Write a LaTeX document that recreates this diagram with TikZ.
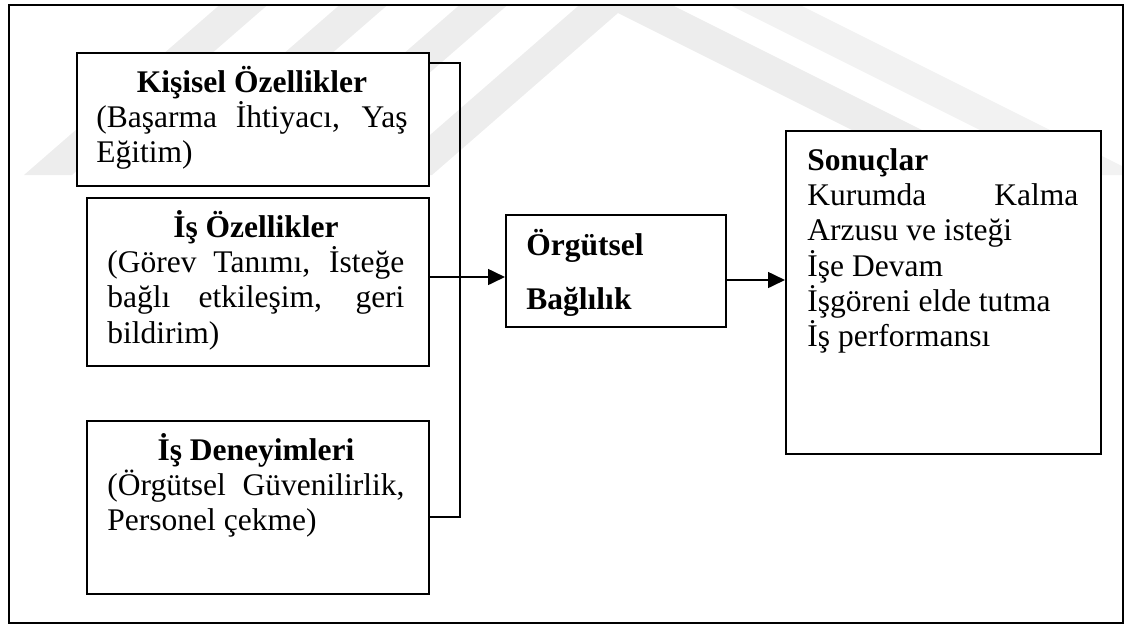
\documentclass[tikz,border=0pt]{standalone}
\usepackage{fontspec}
\setmainfont{Liberation Serif}
\usetikzlibrary{arrows.meta}
\newdimen\pxu \pxu=0.4444pt
\begin{document}
\begin{tikzpicture}[x=0.4444pt, y=-0.4444pt,
  box/.style={draw, line width=0.9pt, fill=white, inner sep=0, anchor=north west},
  txt/.style={anchor=base west, inner sep=0, font=\fontsize{14}{15.73}\selectfont},
  link/.style={line width=0.9pt},
  arr/.style={line width=0.9pt, -{Triangle[length=7.5pt,width=7pt]}},
  wm/.style={fill=black!7, draw=none}]

\useasboundingbox (0,0) rectangle (1125,624);

% faint logo behind the diagram
\begin{scope}
  \clip (9,5) rectangle (1123,623);
  \foreach \a in {225,345,465}
    \fill[wm] ({\a+6},-5) -- ({\a+54},-5) -- ({\a+48-201},175) -- ({\a-201},175) -- cycle;
  \fill[wm] (384,175) -- (585,0) -- (585,-30) -- (662,-30) -- (662,0) -- (1012,175)
            -- (942,175) -- (618,13) -- (432,175) -- cycle;
  \fill[fill=black!5] (720,0) -- (790,0) -- (1140,175) -- (1070,175) -- cycle;
\end{scope}

% outer frame
\draw[line width=1.2pt] (9,5) rectangle (1123,623);

% boxes
\node[box, minimum width=352\pxu, minimum height=133\pxu] (b1) at (76,52) {};
\node[box, minimum width=342\pxu, minimum height=168\pxu] (b2) at (86,197) {};
\node[box, minimum width=342\pxu, minimum height=173\pxu] (b3) at (86,420) {};
\node[box, minimum width=220\pxu, minimum height=112\pxu] (mid) at (505,214) {};
\node[box, minimum width=315\pxu, minimum height=323\pxu] (res) at (785,130) {};

% texts
\node[txt] (t1) at (96,92) {\parbox[t]{311\pxu}{%
  \makebox[\linewidth][c]{\bfseries Kişisel Özellikler}\\
  \makebox[\linewidth][s]{(Başarma İhtiyacı, Yaş}\\
  Eğitim)}};
\node[txt] (t2) at (107,237) {\parbox[t]{297\pxu}{%
  \makebox[\linewidth][c]{\bfseries İş Özellikler}\\
  \makebox[\linewidth][s]{(Görev Tanımı, İsteğe}\\
  \makebox[\linewidth][s]{bağlı etkileşim, geri}\\
  bildirim)}};
\node[txt] (t3) at (107,460) {\parbox[t]{297\pxu}{%
  \makebox[\linewidth][c]{\bfseries İş Deneyimleri}\\
  \makebox[\linewidth][s]{(Örgütsel Güvenilirlik,}\\
  Personel çekme)}};
\node[txt] (tm) at (526,255) {\parbox[t]{190\pxu}{\fontsize{14}{24.4}\selectfont\bfseries
  Örgütsel\\
  Bağlılık}};
\node[txt] (tr) at (807,170) {\parbox[t]{271\pxu}{%
  \textbf{Sonuçlar}\\
  \makebox[\linewidth][s]{Kurumda Kalma}\\
  Arzusu ve isteği\\
  İşe Devam\\
  İşgöreni elde tutma\\
  İş performansı}};

% connectors
\coordinate (j1) at (460,63);
\coordinate (j3) at (460,517);
\coordinate (m1) at (460,277);
\coordinate (m2) at (745,280);
\draw[link] (b1.east |- j1) -- (j1) -- (j3) -- (b3.east |- j3);
\draw[arr] (b2.east |- m1) -- (mid.west |- m1);
\draw[arr] (mid.east |- m2) -- (res.west |- m2);
\end{tikzpicture}
\end{document}
